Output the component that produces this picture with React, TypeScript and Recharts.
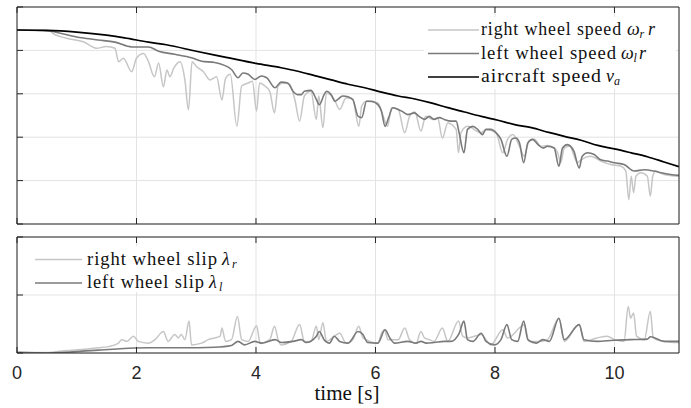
import React from "react";
import { LineChart, Line, XAxis, YAxis, CartesianGrid } from "recharts";

// time [s], speed (top panel, arbitrary units 0..5)
const aircraftSpeed: [number, number][] = [
  [0, 4.47], [0.5, 4.46], [1.0, 4.42], [1.5, 4.35], [1.8, 4.29], [2.2, 4.19], [2.5, 4.13],
  [3.0, 3.98], [3.5, 3.84], [4.0, 3.7], [4.42, 3.6], [4.7, 3.52], [4.98, 3.42], [5.26, 3.32],
  [5.54, 3.22], [5.82, 3.14], [6.1, 3.04], [6.38, 2.95], [6.66, 2.88], [6.93, 2.79], [7.21, 2.68],
  [7.49, 2.58], [7.77, 2.48], [8.05, 2.39], [8.33, 2.29], [8.61, 2.22], [8.9, 2.11], [9.16, 2.02],
  [9.44, 1.93], [9.72, 1.81], [10.0, 1.73], [10.28, 1.64], [10.55, 1.55], [10.83, 1.43], [11.08, 1.32],
];

const leftWheelSpeed: [number, number][] = [
  [0, 4.47], [0.53, 4.45], [0.8, 4.37], [1.08, 4.29], [1.36, 4.24], [1.64, 4.19], [1.92, 4.08],
  [2.2, 4.08], [2.37, 3.98], [2.64, 3.91], [2.92, 3.83], [3.09, 3.75], [3.31, 3.72], [3.59, 3.56],
  [3.7, 3.37], [3.78, 3.48], [3.87, 3.45], [3.98, 3.33], [4.09, 3.41], [4.18, 3.37], [4.32, 3.14],
  [4.42, 3.27], [4.53, 3.25], [4.62, 3.06], [4.7, 2.98], [4.76, 2.98], [4.81, 3.06], [4.92, 3.08],
  [5.01, 2.87], [5.06, 2.75], [5.14, 2.98], [5.18, 3.06], [5.26, 2.98], [5.32, 2.83], [5.37, 2.87],
  [5.45, 2.95], [5.54, 2.93], [5.62, 2.87], [5.71, 2.48], [5.77, 2.45], [5.85, 2.83], [5.93, 2.83],
  [6.04, 2.75], [6.1, 2.6], [6.16, 2.25], [6.22, 2.45], [6.29, 2.68], [6.38, 2.64], [6.44, 2.6],
  [6.54, 2.52], [6.65, 2.56], [6.73, 2.48], [6.82, 2.41], [6.9, 2.48], [6.98, 2.41], [7.07, 2.45],
  [7.15, 2.41], [7.26, 2.37], [7.35, 2.37], [7.4, 2.1], [7.48, 1.64], [7.54, 2.18], [7.63, 2.25],
  [7.71, 2.18], [7.79, 2.06], [7.85, 2.18], [7.93, 2.18], [8.02, 2.1], [8.1, 1.95], [8.2, 1.56],
  [8.28, 1.95], [8.35, 1.98], [8.41, 1.87], [8.48, 1.41], [8.55, 1.87], [8.63, 1.95], [8.72, 1.83],
  [8.8, 1.75], [8.88, 1.79], [8.99, 1.75], [9.07, 1.33], [9.13, 1.75], [9.21, 1.83], [9.32, 1.68],
  [9.41, 1.29], [9.46, 1.56], [9.55, 1.64], [9.66, 1.6], [9.77, 1.48], [9.88, 1.45], [10.0, 1.41],
  [10.16, 1.37], [10.33, 1.22], [10.5, 1.25], [10.66, 1.22], [10.78, 1.18], [10.94, 1.14], [11.08, 1.12],
];

const rightWheelSpeed: [number, number][] = [
  [0, 4.47], [0.55, 4.45], [0.6, 4.39], [0.83, 4.28], [1.11, 4.2], [1.33, 4.05], [1.5, 4.09],
  [1.64, 4.05], [1.7, 3.74], [1.78, 3.82], [1.92, 3.51], [2.0, 3.82], [2.12, 3.93], [2.2, 3.74],
  [2.3, 3.39], [2.37, 3.71], [2.45, 3.16], [2.51, 3.55], [2.56, 3.39], [2.62, 3.58], [2.73, 3.74],
  [2.81, 3.32], [2.87, 2.63], [2.93, 3.74], [3.01, 3.62], [3.12, 3.51], [3.23, 3.32], [3.34, 3.39],
  [3.43, 2.86], [3.49, 3.35], [3.57, 3.45], [3.68, 2.25], [3.76, 3.18], [3.87, 3.25], [3.94, 3.29],
  [4.01, 2.6], [4.06, 3.25], [4.15, 3.18], [4.23, 3.06], [4.31, 2.56], [4.37, 3.18], [4.45, 3.25],
  [4.56, 3.22], [4.65, 2.87], [4.73, 2.37], [4.81, 2.95], [4.92, 3.06], [5.01, 2.41], [5.05, 2.95],
  [5.12, 2.22], [5.18, 3.02], [5.31, 2.87], [5.4, 2.64], [5.51, 2.91], [5.62, 2.87], [5.72, 2.25],
  [5.77, 2.72], [5.85, 2.83], [6.04, 2.79], [6.13, 2.48], [6.2, 2.25], [6.27, 2.68], [6.38, 2.64],
  [6.49, 2.1], [6.57, 2.48], [6.66, 2.58], [6.76, 2.14], [6.84, 2.48], [6.96, 2.41], [7.04, 2.45],
  [7.12, 1.98], [7.21, 2.33], [7.35, 2.18], [7.39, 1.64], [7.43, 2.1], [7.54, 2.25], [7.77, 2.1],
  [7.85, 2.18], [8.02, 2.1], [8.13, 1.64], [8.21, 1.95], [8.3, 2.06], [8.41, 1.79], [8.49, 1.56],
  [8.57, 1.91], [8.66, 1.95], [8.77, 1.79], [8.88, 1.81], [9.0, 1.75], [9.05, 1.64], [9.1, 1.41],
  [9.16, 1.75], [9.25, 1.8], [9.38, 1.41], [9.44, 1.48], [9.6, 1.56], [9.77, 1.45], [9.94, 1.37],
  [10.11, 1.33], [10.19, 1.22], [10.24, 0.56], [10.28, 1.1], [10.32, 0.72], [10.36, 1.1], [10.44, 1.18],
  [10.55, 1.1], [10.6, 0.64], [10.64, 1.1], [10.69, 1.22], [10.83, 1.14], [11.08, 1.1],
];

// time [s], slip (bottom panel, 0..2)
const rightWheelSlip: [number, number][] = [
  [0, 0.01], [0.5, 0.01], [0.8, 0.04], [1.08, 0.06], [1.36, 0.09], [1.53, 0.11], [1.7, 0.17],
  [1.75, 0.23], [1.84, 0.2], [1.95, 0.29], [2.03, 0.2], [2.2, 0.17], [2.31, 0.23], [2.45, 0.37],
  [2.53, 0.2], [2.64, 0.32], [2.7, 0.26], [2.75, 0.32], [2.81, 0.23], [2.88, 0.55], [2.92, 0.14],
  [3.09, 0.17], [3.2, 0.23], [3.31, 0.26], [3.4, 0.29], [3.43, 0.43], [3.49, 0.2], [3.59, 0.23],
  [3.69, 0.63], [3.76, 0.23], [3.87, 0.2], [4.01, 0.47], [4.07, 0.17], [4.23, 0.23], [4.31, 0.46],
  [4.37, 0.23], [4.42, 0.14], [4.59, 0.2], [4.73, 0.49], [4.81, 0.2], [4.92, 0.2], [5.01, 0.46],
  [5.05, 0.23], [5.12, 0.52], [5.18, 0.2], [5.31, 0.29], [5.4, 0.34], [5.51, 0.17], [5.62, 0.23],
  [5.72, 0.46], [5.79, 0.26], [6.04, 0.17], [6.1, 0.34], [6.15, 0.4], [6.21, 0.23], [6.38, 0.23],
  [6.49, 0.43], [6.57, 0.23], [6.68, 0.17], [6.76, 0.37], [6.82, 0.26], [6.9, 0.23], [6.98, 0.2],
  [7.12, 0.43], [7.21, 0.2], [7.39, 0.55], [7.46, 0.29], [7.54, 0.26], [7.77, 0.32], [7.93, 0.14],
  [8.13, 0.4], [8.21, 0.26], [8.44, 0.46], [8.49, 0.49], [8.57, 0.2], [8.77, 0.2], [8.88, 0.23],
  [9.07, 0.6], [9.16, 0.2], [9.41, 0.49], [9.49, 0.2], [9.71, 0.26], [9.88, 0.29], [10.0, 0.23],
  [10.16, 0.2], [10.23, 0.8], [10.27, 0.6], [10.32, 0.69], [10.37, 0.29], [10.5, 0.23], [10.6, 0.72],
  [10.65, 0.26], [10.83, 0.2], [11.08, 0.18],
];

const leftWheelSlip: [number, number][] = [
  [0, 0.01], [0.5, 0.0], [1.36, 0.05], [2.2, 0.09], [2.75, 0.09], [3.31, 0.1], [3.59, 0.13],
  [3.7, 0.2], [3.81, 0.14], [3.98, 0.2], [4.09, 0.17], [4.32, 0.23], [4.43, 0.18], [4.62, 0.2],
  [4.76, 0.23], [4.84, 0.18], [5.01, 0.29], [5.06, 0.37], [5.14, 0.23], [5.23, 0.17], [5.31, 0.29],
  [5.4, 0.2], [5.54, 0.17], [5.71, 0.37], [5.79, 0.32], [5.87, 0.18], [6.04, 0.17], [6.16, 0.4],
  [6.24, 0.26], [6.32, 0.17], [6.54, 0.2], [6.68, 0.17], [6.76, 0.2], [6.85, 0.17], [6.98, 0.18],
  [7.15, 0.2], [7.26, 0.2], [7.4, 0.34], [7.48, 0.55], [7.54, 0.23], [7.63, 0.2], [7.77, 0.34],
  [7.85, 0.2], [7.99, 0.14], [8.1, 0.23], [8.2, 0.49], [8.28, 0.23], [8.38, 0.2], [8.48, 0.55],
  [8.55, 0.23], [8.69, 0.17], [8.8, 0.23], [8.91, 0.2], [9.07, 0.6], [9.16, 0.23], [9.41, 0.49],
  [9.49, 0.23], [9.71, 0.2], [9.99, 0.22], [10.27, 0.23], [10.55, 0.24], [10.6, 0.28], [10.83, 0.2],
  [11.08, 0.2],
];

const timeTicks = [0, 2, 4, 6, 8, 10];
const timeDomain: [number, number] = [0, 11.08];
const speedTicks = [0, 1, 2, 3, 4, 5];
const slipTicks = [0, 1, 2];

const toRows = (pts: [number, number][]) => pts.map(([t, v]) => ({ t, v }));

const AXIS = "#262626";
const GRID = "#e3e3e3";
const LIGHT = "#c6c6c6";
const MID = "#7a7a7a";
const SERIF = "Liberation Serif, serif";
const blank = () => "";

// legend entry: sample line, plain label, then the math symbol placed at its own x
function Entry({ y, x0, x1, tx, lw, color, label, sym, sx, sub, bx, tail, rx }: {
  y: number; x0: number; x1: number; tx: number; lw: number; color: string;
  label: string; sym: string; sx: number; sub: string; bx: number; tail?: string; rx?: number;
}) {
  const base = y + 5;
  return (
    <g fill="#111" fontFamily={SERIF}>
      <line x1={x0} y1={y} x2={x1} y2={y} stroke={color} strokeWidth={1.6} />
      <text x={tx} y={base} fontSize={18} letterSpacing={0.9} textLength={lw} lengthAdjust="spacingAndGlyphs">{label}</text>
      <text x={sx} y={base} fontSize={18} fontStyle="italic">{sym}</text>
      <text x={bx} y={base + 3} fontSize={12} fontStyle="italic">{sub}</text>
      {tail ? <text x={rx} y={base} fontSize={18} fontStyle="italic">{tail}</text> : null}
    </g>
  );
}

export default function App() {
  return (
    <div style={{ position: "absolute", left: 0, top: 0, width: 691, height: 408, background: "#fff" }}>
      <div style={{ position: "absolute", left: 0, top: 0 }}>
        <LineChart width={691} height={230} margin={{ top: 6, right: 11, bottom: 5, left: 16 }}>
          <CartesianGrid xAxisId="b" yAxisId="l" stroke={GRID} />
          <XAxis xAxisId="b" type="number" dataKey="t" domain={timeDomain} ticks={timeTicks} allowDataOverflow height={1} tickSize={-6} stroke={AXIS} tickFormatter={blank} />
          <XAxis xAxisId="t" orientation="top" type="number" dataKey="t" domain={timeDomain} ticks={timeTicks} allowDataOverflow height={1} tickSize={-6} stroke={AXIS} tickFormatter={blank} />
          <YAxis yAxisId="l" domain={[0, 5]} ticks={speedTicks} width={1} tickSize={-6} stroke={AXIS} tickFormatter={blank} allowDataOverflow />
          <YAxis yAxisId="r" orientation="right" domain={[0, 5]} ticks={speedTicks} width={1} tickSize={-6} stroke={AXIS} tickFormatter={blank} />
          <Line type="monotone" xAxisId="b" yAxisId="l" data={toRows(rightWheelSpeed)} dataKey="v" stroke={LIGHT} strokeWidth={1.5} dot={false} isAnimationActive={false} />
          <Line type="monotone" xAxisId="b" yAxisId="l" data={toRows(leftWheelSpeed)} dataKey="v" stroke={MID} strokeWidth={1.6} dot={false} isAnimationActive={false} />
          <Line type="monotone" xAxisId="b" yAxisId="l" data={toRows(aircraftSpeed)} dataKey="v" stroke="#000" strokeWidth={1.7} dot={false} isAnimationActive={false} />
        </LineChart>
      </div>
      <div style={{ position: "absolute", left: 0, top: 230 }}>
        <LineChart width={691} height={178} margin={{ top: 6, right: 11, bottom: 25, left: 16 }}>
          <CartesianGrid xAxisId="b" yAxisId="l" stroke={GRID} />
          <XAxis
            xAxisId="b" type="number" dataKey="t" domain={timeDomain} ticks={timeTicks} allowDataOverflow
            height={30} tickSize={-6} tickMargin={19} stroke={AXIS}
            tick={{ fill: AXIS, fontSize: 18, fontFamily: "Liberation Sans, Arial, sans-serif" }}
          />
          <XAxis xAxisId="t" orientation="top" type="number" dataKey="t" domain={timeDomain} ticks={timeTicks} allowDataOverflow height={1} tickSize={-6} stroke={AXIS} tickFormatter={blank} />
          <YAxis yAxisId="l" domain={[0, 2]} ticks={slipTicks} width={1} tickSize={-6} stroke={AXIS} tickFormatter={blank} allowDataOverflow />
          <YAxis yAxisId="r" orientation="right" domain={[0, 2]} ticks={slipTicks} width={1} tickSize={-6} stroke={AXIS} tickFormatter={blank} />
          <Line type="monotone" xAxisId="b" yAxisId="l" data={toRows(rightWheelSlip)} dataKey="v" stroke={LIGHT} strokeWidth={1.5} dot={false} isAnimationActive={false} />
          <Line type="monotone" xAxisId="b" yAxisId="l" data={toRows(leftWheelSlip)} dataKey="v" stroke={MID} strokeWidth={1.6} dot={false} isAnimationActive={false} />
        </LineChart>
      </div>

      <svg width={691} height={408} style={{ position: "absolute", left: 0, top: 0, pointerEvents: "none" }}>
        <rect x={424} y={17} width={252} height={72} fill="#fff" />
        <Entry y={30} x0={428} x1={479} tx={481} lw={141} color={LIGHT} label="right wheel speed" sym="ω" sx={627} sub="r" bx={639.5} tail="r" rx={648} />
        <Entry y={53.5} x0={428} x1={479} tx={481} lw={136} color={MID} label="left wheel speed" sym="ω" sx={621} sub="l" bx={633.5} tail="r" rx={639} />
        <Entry y={77} x0={428} x1={479} tx={481} lw={121} color="#000" label="aircraft speed" sym="v" sx={606} sub="a" bx={614} />
        <rect x={30} y={246} width={215} height={46} fill="#fff" />
        <Entry y={259.5} x0={35} x1={82} tx={87} lw={131} color={LIGHT} label="right wheel slip" sym="λ" sx={222} sub="r" bx={232} />
        <Entry y={283} x0={35} x1={82} tx={87} lw={118} color={MID} label="left wheel slip" sym="λ" sx={209} sub="l" bx={219} />
        <text x={347} y={400} textAnchor="middle" fontFamily={SERIF} fontSize={20} fill="#111" textLength={65} lengthAdjust="spacingAndGlyphs">
          time [s]
        </text>
      </svg>
    </div>
  );
}
